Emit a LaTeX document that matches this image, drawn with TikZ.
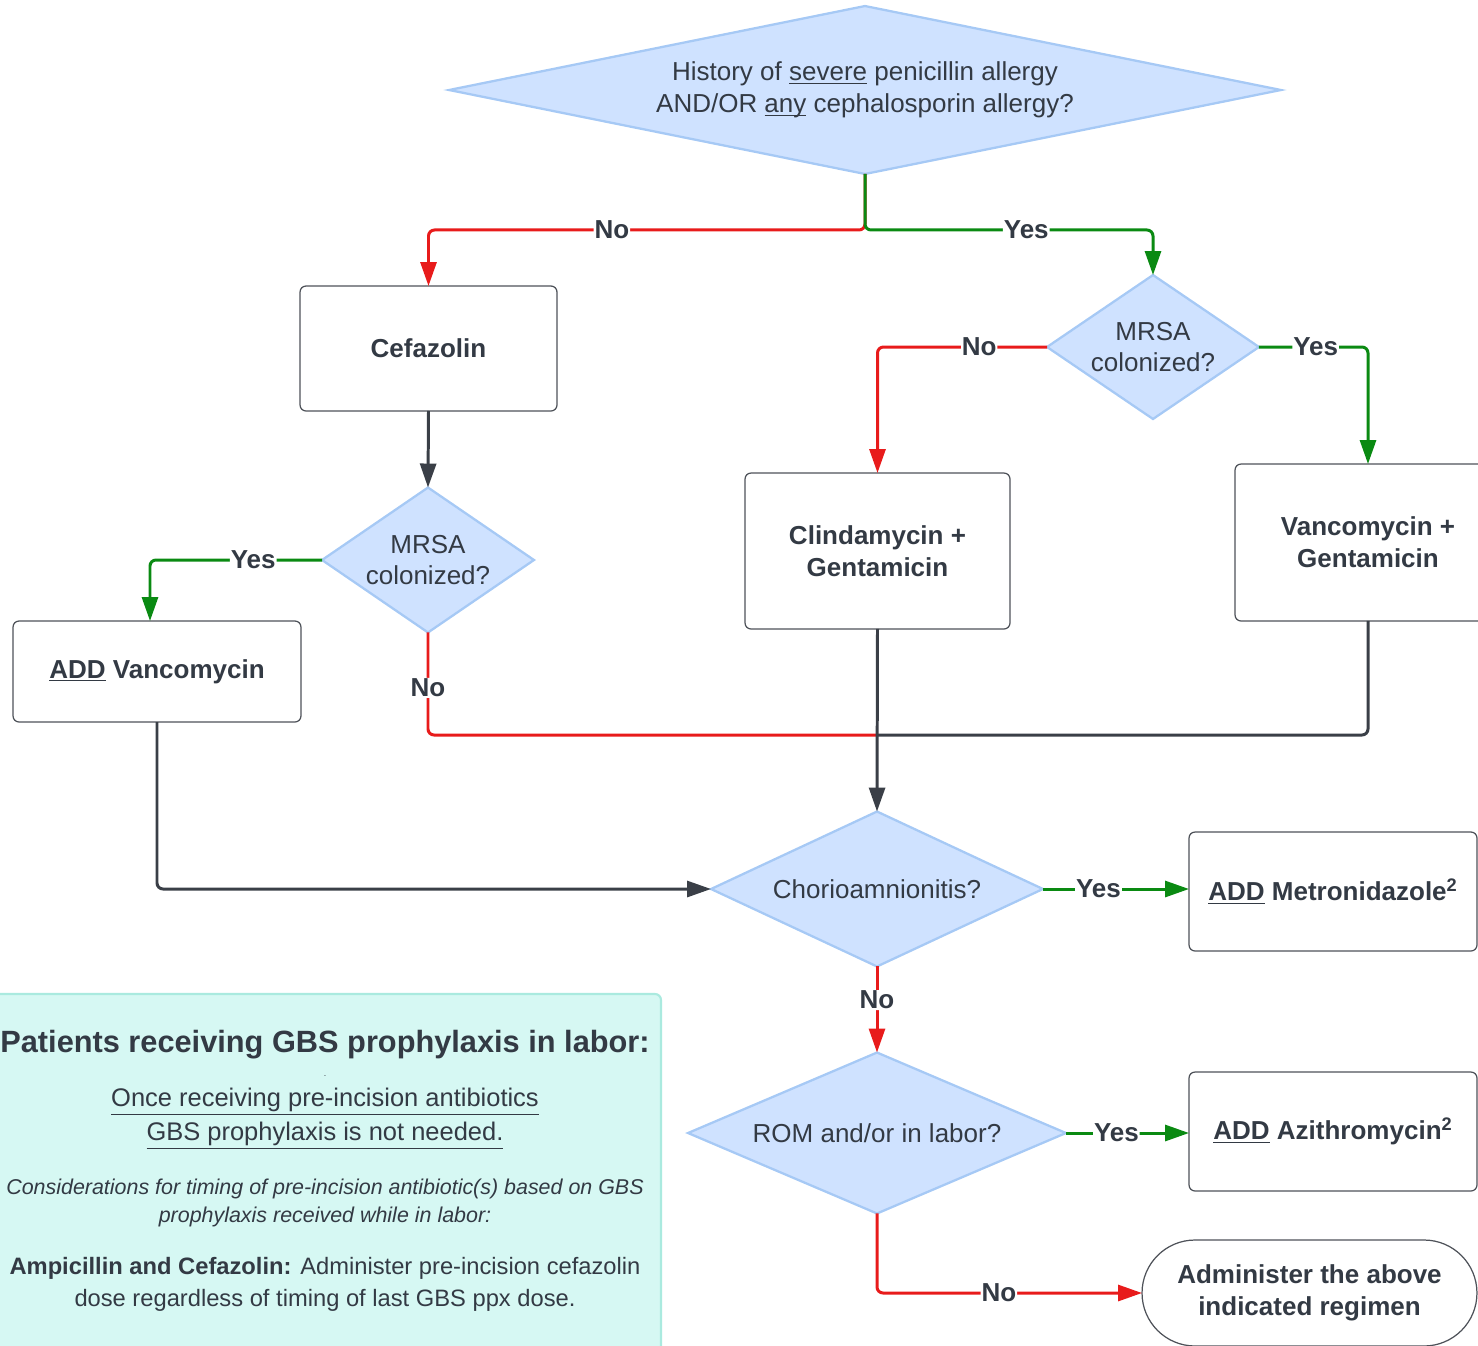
\documentclass[tikz,border=0pt]{standalone}
\usepackage{fontspec}
\setmainfont{Liberation Sans}
\usetikzlibrary{shapes.geometric,arrows.meta}

\definecolor{dfill}{HTML}{CFE2FF}
\definecolor{dline}{HTML}{A6C9F5}
\definecolor{ink}{HTML}{333A44}
\definecolor{wire}{HTML}{3A3F47}
\definecolor{nored}{HTML}{E81B1B}
\definecolor{yesgreen}{HTML}{0A8A12}
\definecolor{notefill}{HTML}{D6F8F3}
\definecolor{noteline}{HTML}{AAEADF}

\newcommand{\fsmain}{\fontsize{14.8}{18.1}\selectfont}

\tikzset{
  decision/.style={diamond, draw=dline, fill=dfill, line width=1.3pt, inner sep=0pt,
    outer sep=0pt, align=center, text=ink, font=\fsmain},
  drug/.style={rectangle, draw=wire!90, line width=0.7pt, rounded corners=0.12cm,
    inner sep=0pt, outer sep=0pt, align=center, text=ink, font=\fsmain\bfseries},
  lbl/.style={fill=white, inner sep=0.5pt, text=ink, font=\fsmain\bfseries},
  flow/.style={line width=1.7pt, rounded corners=0.12cm,
    -{Triangle[length=0.48cm,width=0.32cm]}},
  nopath/.style={flow, draw=nored},
  yespath/.style={flow, draw=yesgreen},
  thenpath/.style={flow, draw=wire},
  notetext/.style={align=center, text=ink, inner sep=0pt},
}

\begin{document}
\begin{tikzpicture}[x=0.02cm, y=-0.02cm]
    \useasboundingbox (0,0) rectangle (1478,1346);

    % note in the corner
    \draw[draw=noteline, fill=notefill, line width=1.2pt, rounded corners=0.12cm]
      (-10,994) rectangle (661,1380);
    \node[notetext, font=\fontsize{17.5}{21}\selectfont\bfseries] (notetitle) at (325,1045)
      {Patients receiving GBS prophylaxis in labor:};
    \node[notetext, font=\fontsize{5}{6}\selectfont] (notedot) at (325,1076) {.};
    \node[notetext, font=\fontsize{14.5}{19.3}\selectfont] (noteonce) at (325,1119)
      {\underline{Once receiving pre-incision antibiotics}\\
       \underline{GBS prophylaxis is not needed.}};
    \node[notetext, font=\fontsize{12.2}{16.4}\selectfont\itshape] (notetiming) at (325,1203)
      {Considerations for timing of pre-incision antibiotic(s) based on GBS\\
       prophylaxis received while in labor:};
    \node[notetext, font=\fontsize{13.5}{18.1}\selectfont] (noteampi) at (325,1284)
      {\textbf{Ampicillin and Cefazolin:} Administer pre-incision cefazolin\\
       dose regardless of timing of last GBS ppx dose.};

    % decisions
    \node[decision, aspect=4.95, minimum width=16.64cm, minimum height=3.36cm] (hist)
      at (865,90) {History of \underline{severe} penicillin allergy\\
       AND/OR \underline{\smash{any}} cephalosporin allergy?};
    \node[decision, aspect=1.46, minimum width=4.24cm, minimum height=2.9cm] (mrsaL)
      at (428,560) {MRSA\\colonized?};
    \node[decision, aspect=1.47, minimum width=4.24cm, minimum height=2.88cm] (mrsaR)
      at (1153,347) {MRSA\\colonized?};
    \node[decision, aspect=2.14, minimum width=6.64cm, minimum height=3.1cm] (chorio)
      at (877,889) {Chorioamnionitis?};
    \node[decision, aspect=2.35, minimum width=7.56cm, minimum height=3.22cm] (rom)
      at (877,1133) {ROM and/or in labor?};

    % regimens
    \node[drug, minimum width=5.14cm, minimum height=2.5cm] (cef) at (428.5,348.5)
      {Cefazolin};
    \node[drug, minimum width=5.76cm, minimum height=2.02cm] (addvanc) at (157,671.5)
      {\underline{ADD} Vancomycin};
    \node[drug, minimum width=5.3cm, minimum height=3.12cm] (clin) at (877.5,551)
      {Clindamycin +\\Gentamicin};
    \node[drug, minimum width=5.32cm, minimum height=3.14cm] (vgent) at (1368,542.5)
      {Vancomycin +\\Gentamicin};
    \node[drug, minimum width=5.76cm, minimum height=2.38cm] (metro) at (1333,891.5)
      {\underline{ADD} Metronidazole\textsuperscript{2}};
    \node[drug, minimum width=5.76cm, minimum height=2.38cm] (azi) at (1333,1131.5)
      {\underline{ADD} Azithromycin\textsuperscript{2}};
    \node[drug, minimum width=6.7cm, minimum height=2.12cm, rounded corners=1.06cm] (admin)
      at (1309.5,1293) {Administer the above\\indicated regimen};

    \coordinate (join) at (877,735);

    % arrows
    \draw[nopath] (hist.south) -- ++(0,56) -| node[lbl,pos=0.29]{No} (cef.north);
    \draw[yespath] (hist.south) -- ++(0,56) -| node[lbl,pos=0.28]{Yes} (mrsaR.north);
    \draw[thenpath] (cef.south) -- (mrsaL.north);
    \draw[yespath] (mrsaL.west) -| node[lbl,pos=0.2]{Yes} ([xshift=-0.14cm]addvanc.north);
    \draw[nopath,-] (mrsaL.south) |- node[lbl,pos=0.27]{No} (join);
    \draw[nopath] (mrsaR.west) -| node[lbl,pos=0.2]{No} (clin.north);
    \draw[yespath] (mrsaR.east) -| node[lbl,pos=0.26]{Yes} (vgent.north);
    \draw[thenpath,-] (vgent.south) |- (join);
    \draw[thenpath] (clin.south) -- (chorio.north);
    \draw[thenpath] (addvanc.south) |- (chorio.west);
    \draw[yespath] (chorio.east) -- node[lbl,pos=0.38]{Yes} (chorio.east -| metro.west);
    \draw[nopath] (chorio.south) -- node[lbl,pos=0.39]{No} (rom.north);
    \draw[yespath] (rom.east) -- node[lbl,pos=0.41]{Yes} (rom.east -| azi.west);
    \draw[nopath] (rom.south) |- node[lbl,pos=0.73]{No} (admin.west);
\end{tikzpicture}
\end{document}
